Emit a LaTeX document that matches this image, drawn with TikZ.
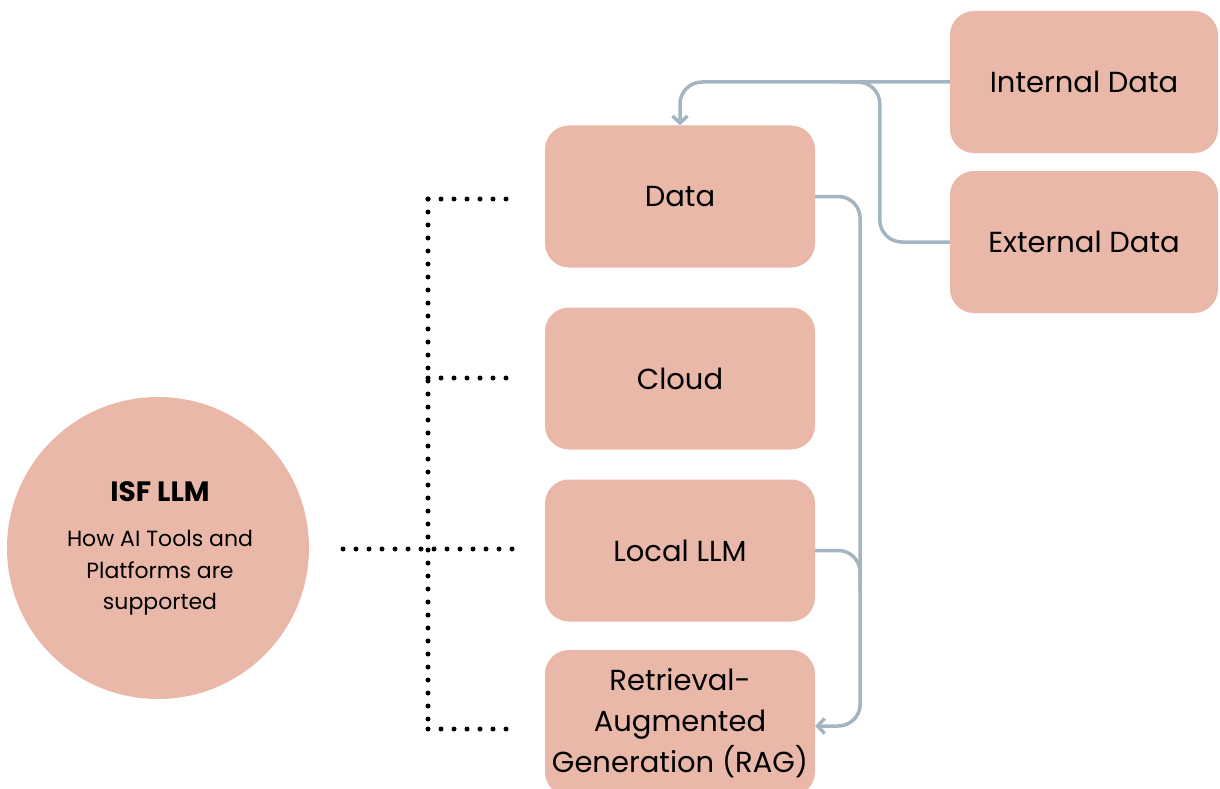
\documentclass[tikz,border=0pt]{standalone}
\usepackage{fontspec}
\setmainfont{Poppins}
\usetikzlibrary{arrows.meta}
\definecolor{salmon}{HTML}{E9B8A8}
\definecolor{conn}{HTML}{A3B5C0}
\begin{document}
\begin{tikzpicture}[x=1pt,y=-1pt,
  box/.style={fill=salmon, rounded corners=24pt, minimum width=270pt, minimum height=142pt, inner sep=0pt, align=center, font=\fontsize{29}{41}\selectfont},
  link/.style={draw=conn, line width=3.5pt, rounded corners=22pt},
  tip/.style={-{Straight Barb[length=7pt,width=15pt,line width=3.5pt]}},
  dots/.style={line width=5pt, line cap=round, dash pattern=on 0pt off 13pt}]
\useasboundingbox (0,0) rectangle (1220,789);

% hub circle
\node[circle, fill=salmon, minimum size=302pt, inner sep=0pt, align=center] (hub) at (158,548) {};
\node[font=\fontsize{28}{32}\selectfont\bfseries] (title) at (160,492) {ISF LLM};
\node[align=center, font=\fontsize{22}{31.5}\selectfont] (sub) at (160,573) {How AI Tools and\\Platforms are\\supported};

% boxes
\node[box] (data) at (680,196.5) {Data};
\node[box] (cloud) at (680,378.5) {Cloud};
\node[box] (local) at (680,550.5) {Local LLM};
\node[box, minimum height=146pt] (rag) at (680,723) {Retrieval-\\Augmented\\Generation (RAG)};
\node[box, minimum width=268pt] (internal) at (1084,82) {Internal Data};
\node[box, minimum width=268pt] (external) at (1084,242) {External Data};

% grey connectors
\draw[link, tip] (internal.west) -| (data.north);
\draw[link] (external.west) -- ++(-70,0) |- ([xshift=-110pt]internal.west);
\draw[link, tip] (data.east) -- ++(45,0) |- ([yshift=-3pt]rag.east);
\draw[link] (local.east) -- ++(45,0) -- ++(0,40);

% dotted bracket
\coordinate (sTop) at (428,199);
\coordinate (sCloud) at (428,378);
\coordinate (sLocal) at (428,549);
\coordinate (sBot) at (428,729);
\coordinate (hubEnd) at (343,549);
\draw[dots] (sTop) -- (sBot);
\draw[dots] (sTop) -- ([xshift=-35pt]data.west |- sTop);
\draw[dots] (sCloud) -- ([xshift=-37pt]cloud.west |- sCloud);
\draw[dots] (hubEnd) -- ([xshift=-32pt]local.west |- sLocal);
\draw[dots] (sBot) -- ([xshift=-35pt]rag.west |- sBot);
\end{tikzpicture}
\end{document}
